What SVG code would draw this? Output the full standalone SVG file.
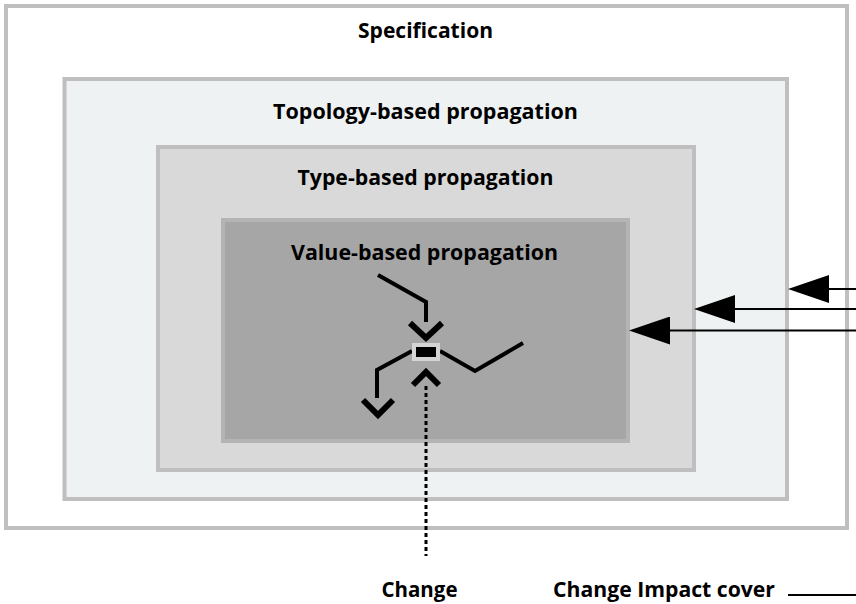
<svg xmlns="http://www.w3.org/2000/svg" width="856" height="604" viewBox="0 0 856 604">
  <style>
    .label { font-family: "Open Sans", "Liberation Sans", sans-serif; font-weight: 700; font-size: 22px; fill: #000; }
    .frame { stroke: #bfbfbf; stroke-width: 4; }
    .wire { fill: none; stroke: #000; stroke-width: 4; stroke-linejoin: miter; }
    .chev { fill: none; stroke: #000; stroke-width: 6; stroke-linejoin: miter; }
    .cover { stroke: #000; stroke-width: 2; }
  </style>
  <defs>
    <marker id="head" markerUnits="userSpaceOnUse" markerWidth="42" markerHeight="28" refX="0" refY="14" orient="auto" viewBox="0 0 42 28">
      <path d="M0,0 L41,14 L0,28 Z" fill="#000"/>
    </marker>
  </defs>
  <rect width="856" height="604" fill="#fff"/>

  <g id="specification">
    <rect class="frame" x="6" y="6" width="841" height="522" fill="#ffffff"/>
    <text class="label" x="425.5" y="38" text-anchor="middle" textLength="135" lengthAdjust="spacingAndGlyphs">Specification</text>
  </g>

  <g id="topology">
    <rect class="frame" x="64.5" y="79" width="722.5" height="420" fill="#eff2f3"/>
    <text class="label" x="425.5" y="119" text-anchor="middle" textLength="305" lengthAdjust="spacingAndGlyphs">Topology-based propagation</text>
  </g>

  <g id="type">
    <rect class="frame" x="158" y="147" width="536" height="323" fill="#d9d9d9"/>
    <text class="label" x="425.5" y="185" text-anchor="middle" textLength="256" lengthAdjust="spacingAndGlyphs">Type-based propagation</text>
  </g>

  <g id="value">
    <rect x="223" y="220" width="405" height="221" fill="#a6a6a6" stroke="#b4b4b4" stroke-width="4"/>
    <text class="label" x="424.5" y="260" text-anchor="middle" textLength="267" lengthAdjust="spacingAndGlyphs">Value-based propagation</text>
  </g>

  <g id="element">
    <!-- incoming wire and its chevron -->
    <polyline class="wire" points="378,275 426,302 426,322"/>
    <polyline class="chev" points="410,323 426,338 442,323"/>
    <!-- outgoing wire to the right -->
    <polyline class="wire" points="440,351 475,371 523,343"/>
    <!-- outgoing wire to the lower left and its chevron -->
    <polyline class="wire" points="412,351 377,370 377,398"/>
    <polyline class="chev" points="363,400 378,415 393,400"/>
    <!-- change entry chevron -->
    <polyline class="chev" points="413,385 426,372 439,385"/>
    <!-- the changed element -->
    <rect x="414" y="345" width="24" height="14" fill="#000" stroke="#d4d4d4" stroke-width="4"/>
  </g>

  <g id="connectors">
    <line x1="426" y1="386" x2="426" y2="556" stroke="#000" stroke-width="3" stroke-dasharray="4,3"/>
    <line class="cover" x1="856" y1="289" x2="829" y2="289" marker-end="url(#head)"/>
    <line class="cover" x1="856" y1="309" x2="735" y2="309" marker-end="url(#head)"/>
    <line class="cover" x1="856" y1="330.5" x2="670" y2="330.5" marker-end="url(#head)"/>
  </g>

  <g id="legend">
    <text class="label" x="419.5" y="597" text-anchor="middle" textLength="76" lengthAdjust="spacingAndGlyphs">Change</text>
    <text class="label" x="553" y="597" textLength="222" lengthAdjust="spacingAndGlyphs">Change Impact cover</text>
    <line class="cover" x1="788" y1="595" x2="856" y2="595"/>
  </g>
</svg>
